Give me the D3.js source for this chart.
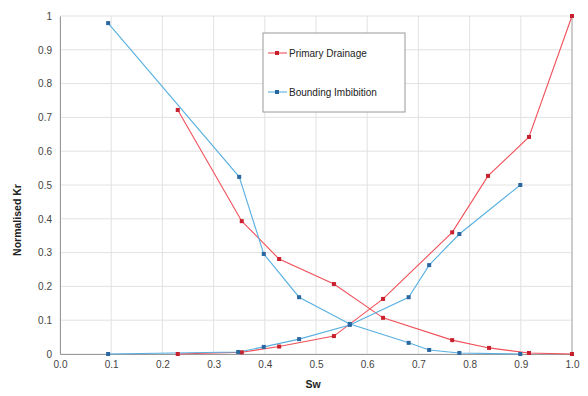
<!DOCTYPE html>
<html>
<head>
<meta charset="utf-8">
<script src="https://cdn.jsdelivr.net/npm/d3@7"></script>
<style>
  body { margin: 0; background: #fff; }
  text { font-family: "Liberation Sans", Arial, sans-serif; }
</style>
</head>
<body>
<div id="chart"></div>
<script>
// Sw / Kr readings for each curve
const drainDownSw = [0.23, 0.355, 0.428, 0.535, 0.631, 0.766, 0.838, 0.916, 1.0];
const drainDownKr = [0.722, 0.393, 0.281, 0.207, 0.107, 0.041, 0.018, 0.003, 0.0];
const drainUpSw = [0.23, 0.355, 0.428, 0.535, 0.631, 0.766, 0.836, 0.916, 1.0];
const drainUpKr = [0.0, 0.005, 0.022, 0.053, 0.163, 0.36, 0.527, 0.642, 1.0];
const imbDownSw = [0.094, 0.35, 0.398, 0.467, 0.566, 0.681, 0.721, 0.78, 0.899];
const imbDownKr = [0.979, 0.524, 0.296, 0.168, 0.089, 0.033, 0.012, 0.003, 0.0];
const imbUpSw = [0.094, 0.348, 0.398, 0.467, 0.566, 0.681, 0.721, 0.78, 0.899];
const imbUpKr = [0.0, 0.006, 0.021, 0.044, 0.086, 0.168, 0.263, 0.355, 0.5];
const xTicks = [0, 0.1, 0.2, 0.3, 0.4, 0.5, 0.6, 0.7, 0.8, 0.9, 1.0];
const yTicks = [0, 0.1, 0.2, 0.3, 0.4, 0.5, 0.6, 0.7, 0.8, 0.9, 1.0];
const seriesNames = ["Primary Drainage", "Bounding Imbibition"];

const width = 588, height = 396;
const margin = { top: 16, right: 16, bottom: 42, left: 60 };

const lineColor = ["#f0505a", "#58b0e0"];
const markColor = ["#c8202c", "#2a66a0"];

const toPts = (sw, kr) => sw.map((s, i) => ({ x: s, y: kr[i] }));
const curves = [
  { s: 0, pts: toPts(drainDownSw, drainDownKr) },
  { s: 0, pts: toPts(drainUpSw, drainUpKr) },
  { s: 1, pts: toPts(imbDownSw, imbDownKr) },
  { s: 1, pts: toPts(imbUpSw, imbUpKr) }
];

const svg = d3.select("#chart").append("svg")
  .attr("width", width).attr("height", height);

const x = d3.scaleLinear().domain([0, 1]).range([margin.left, width - margin.right]);
const y = d3.scaleLinear().domain([0, 1]).range([height - margin.bottom, margin.top]);

// grid
svg.append("g")
  .selectAll("line.v").data(xTicks).join("line")
  .attr("x1", d => x(d)).attr("x2", d => x(d))
  .attr("y1", y(0)).attr("y2", y(1))
  .attr("stroke", "#e2e2e2");
svg.append("g")
  .selectAll("line.h").data(yTicks).join("line")
  .attr("x1", x(0)).attr("x2", x(1))
  .attr("y1", d => y(d)).attr("y2", d => y(d))
  .attr("stroke", "#e2e2e2");

// plot frame
svg.append("line").attr("x1", x(1)).attr("x2", x(1)).attr("y1", y(0)).attr("y2", y(1))
  .attr("stroke", "#a8a8a8");

const xAxis = svg.append("g")
  .attr("transform", `translate(0,${y(0)})`)
  .call(d3.axisBottom(x).tickValues(xTicks).tickFormat(d3.format(".1f")).tickSize(0).tickPadding(7));
const yAxis = svg.append("g")
  .attr("transform", `translate(${x(0)},0)`)
  .call(d3.axisLeft(y).tickValues(yTicks).tickFormat(d => d === 0 || d === 1 ? d3.format("d")(d) : d3.format(".1f")(d)).tickSize(0).tickPadding(8));

[xAxis, yAxis].forEach(a => {
  a.select(".domain").attr("stroke", "#999");
  a.selectAll("text").attr("font-size", 10).attr("fill", "#444")
    .attr("font-family", "Liberation Sans, Arial, sans-serif");
});

// curves
const line = d3.line().x(d => x(d.x)).y(d => y(d.y));
curves.forEach(c => {
  svg.append("path").datum(c.pts)
    .attr("d", line)
    .attr("fill", "none")
    .attr("stroke", lineColor[c.s])
    .attr("stroke-width", 1.1);
});
curves.forEach(c => {
  svg.append("g").selectAll("rect").data(c.pts).join("rect")
    .attr("x", d => x(d.x) - 2).attr("y", d => y(d.y) - 2)
    .attr("width", 4).attr("height", 4)
    .attr("fill", markColor[c.s]);
});

// axis titles
svg.append("text")
  .attr("x", 313).attr("y", 388)
  .attr("text-anchor", "middle")
  .attr("font-size", 10.5).attr("font-weight", "bold").attr("fill", "#222")
  .text("Sw");
svg.append("text")
  .attr("transform", "translate(21,220) rotate(-90)")
  .attr("text-anchor", "middle")
  .attr("font-size", 10.5).attr("font-weight", "bold").attr("fill", "#222")
  .text("Normalised Kr");

// legend
const lg = svg.append("g").attr("transform", "translate(263,33)");
lg.append("rect").attr("width", 142).attr("height", 79)
  .attr("fill", "#fff").attr("stroke", "#999");
seriesNames.forEach((name, i) => {
  const ly = 20 + i * 39;
  lg.append("line").attr("x1", 5).attr("x2", 24).attr("y1", ly).attr("y2", ly)
    .attr("stroke", lineColor[i]).attr("stroke-width", 1.1);
  lg.append("rect").attr("x", 12).attr("y", ly - 2).attr("width", 4).attr("height", 4)
    .attr("fill", markColor[i]);
  lg.append("text").attr("x", 26).attr("y", ly + 3.5)
    .attr("font-size", 10).attr("fill", "#222")
    .text(name);
});
</script>
</body>
</html>
